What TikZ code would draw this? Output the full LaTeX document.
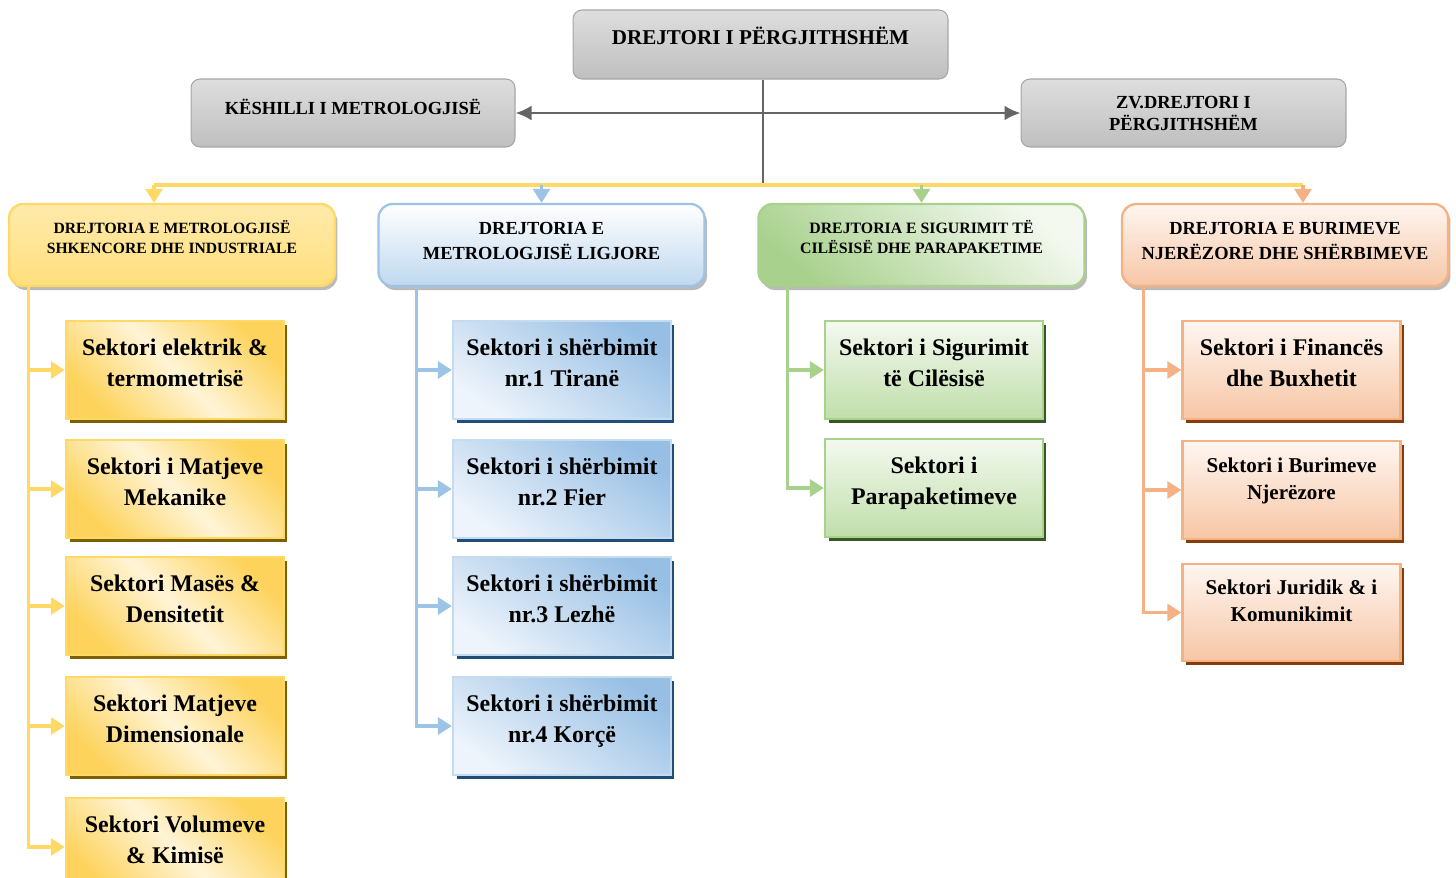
\documentclass[tikz,border=0pt]{standalone}
\usepackage{fontspec}
\setmainfont{Liberation Serif}
\usetikzlibrary{arrows.meta, positioning, shadows, calc}

\definecolor{graytop}{HTML}{DEDEDE}
\definecolor{graybot}{HTML}{BFBFBF}
\definecolor{grayedge}{HTML}{A6A6A6}
\definecolor{grayln}{HTML}{656565}
\definecolor{ylwln}{HTML}{FFD966}
\definecolor{ylwdark}{HTML}{FDD35C}
\definecolor{ylwlight}{HTML}{FFF4D6}
\definecolor{ylwshadow}{HTML}{7F6000}
\definecolor{bluln}{HTML}{9DC3E6}
\definecolor{bludark}{HTML}{97BFE4}
\definecolor{blulight}{HTML}{EEF4FB}
\definecolor{blushadow}{HTML}{1F4E79}
\definecolor{grnln}{HTML}{A9D18E}
\definecolor{grndark}{HTML}{C0DEAA}
\definecolor{grnlight}{HTML}{F4F9F0}
\definecolor{grnshadow}{HTML}{385723}
\definecolor{orgln}{HTML}{F4B183}
\definecolor{orgdark}{HTML}{F7C6A5}
\definecolor{orglight}{HTML}{FEF6F1}
\definecolor{orgshadow}{HTML}{843C0C}

\tikzset{
  topbox/.style={draw=grayedge, line width=0.6pt, rounded corners=0.18cm,
    top color=graytop, bottom color=graybot, align=center,
    font=\bfseries\fontsize{10.5}{12.5}\selectfont},
  dirbox/.style={line width=1.3pt, rounded corners=0.28cm, align=center,
    minimum width=6.52cm, minimum height=1.64cm,
    drop shadow={shadow xshift=0.05cm, shadow yshift=-0.08cm, fill=black!45, opacity=0.6}},
  secbox/.style={line width=1.3pt, align=center, minimum width=4.36cm, minimum height=1.96cm,
    font=\bfseries\fontsize{13.6}{17.6}\selectfont},
  ylwsec/.style={secbox, draw=ylwln, top color=ylwdark, bottom color=ylwdark, middle color=ylwlight,
    shading angle=-45, drop shadow={shadow xshift=0.07cm, shadow yshift=-0.07cm, fill=ylwshadow, opacity=1}},
  blusec/.style={secbox, draw=bluln!60, top color=bludark, bottom color=blulight,
    shading angle=-35, drop shadow={shadow xshift=0.07cm, shadow yshift=-0.07cm, fill=blushadow, opacity=1}},
  grnsec/.style={secbox, draw=grnln, top color=grnlight, bottom color=grndark,
    drop shadow={shadow xshift=0.07cm, shadow yshift=-0.07cm, fill=grnshadow, opacity=1}},
  orgsec/.style={secbox, draw=orgln, top color=orglight, bottom color=orgdark,
    drop shadow={shadow xshift=0.07cm, shadow yshift=-0.07cm, fill=orgshadow, opacity=1}},
  grayline/.style={draw=grayln, line width=1.6pt},
  ylwline/.style={draw=ylwln, line width=1.8pt},
  tip/.style={-{Triangle[width=0.34cm, length=0.28cm]}},
}

\begin{document}
\begin{tikzpicture}[x=0.02cm, y=-0.02cm]
\useasboundingbox (0,0) rectangle (1456,877);
\clip (0,0) rectangle (1456,877);

% top level
\node[topbox, minimum width=7.5cm, minimum height=1.38cm, font=\bfseries\fontsize{12}{14}\selectfont] (dg) at (760.5,44.5) {DREJTORI I PËRGJITHSHËM\\[-4.4pt]\mbox{}};
\node[topbox, minimum width=6.48cm, minimum height=1.36cm] (ksh) at (353,113) {KËSHILLI I METROLOGJISË\\[-5.7pt]\mbox{}};
\node[topbox, minimum width=6.5cm, minimum height=1.36cm] (zv) at (1183.5,113) {ZV.DREJTORI I\\PËRGJITHSHËM};

\coordinate (hub) at (763,185);
\draw[grayline] (dg.south -| hub) -- (hub);
\draw[grayline, {Latex[width=0.3cm, length=0.32cm]}-{Latex[width=0.3cm, length=0.32cm]}] (ksh) -- (zv);

% directorates
\node[dirbox, draw=ylwln, top color=ylwln!55, bottom color=ylwln!85, font=\bfseries\fontsize{8.9}{11.3}\selectfont] (d1) at (172,245) {DREJTORIA E METROLOGJISË\\SHKENCORE DHE INDUSTRIALE\\[-2.3pt]\mbox{}};
\node[dirbox, draw=bluln, top color=white, bottom color=bluln!65, font=\bfseries\fontsize{10.5}{14.2}\selectfont] (d2) at (541.5,245) {DREJTORIA E\\METROLOGJISË LIGJORE\\[-9.1pt]\mbox{}};
\node[dirbox, draw=grnln, top color=grnlight, bottom color=grnln, shading angle=-40, font=\bfseries\fontsize{9}{11.3}\selectfont] (d3) at (921.5,245) {DREJTORIA E SIGURIMIT TË\\CILËSISË DHE PARAPAKETIME\\[-2.3pt]\mbox{}};
\node[dirbox, draw=orgln, top color=orglight, bottom color=orgdark, font=\bfseries\fontsize{10.5}{14.2}\selectfont] (d4) at (1285,245) {DREJTORIA E BURIMEVE\\NJERËZORE DHE SHËRBIMEVE\\[-9.1pt]\mbox{}};

\coordinate (b1) at (154,185);
\coordinate (b4) at (1303,185);
\draw[ylwline] (b1) -- (b4);
\draw[ylwline, tip] (b1) -- (b1 |- d1.north);
\draw[draw=bluln, line width=1.8pt, tip] (hub -| d2) -- (d2.north);
\draw[draw=grnln, line width=1.8pt, tip] (hub -| d3) -- (d3.north);
\draw[draw=orgln, line width=1.8pt, tip] (b4) -- (b4 |- d4.north);

% sectors
\node[ylwsec] (s11) at (175,370) {Sektori elektrik \&\\termometrisë\\[-9pt]\mbox{}};
\node[ylwsec] (s12) at (175,489) {Sektori i Matjeve\\Mekanike\\[-9pt]\mbox{}};
\node[ylwsec] (s13) at (175,606) {Sektori Masës \&\\Densitetit\\[-9pt]\mbox{}};
\node[ylwsec] (s14) at (175,726) {Sektori Matjeve\\Dimensionale\\[-9pt]\mbox{}};
\node[ylwsec] (s15) at (175,847) {Sektori Volumeve\\\& Kimisë\\[-9pt]\mbox{}};

\node[blusec] (s21) at (562,370) {Sektori i shërbimit\\nr.1 Tiranë\\[-9pt]\mbox{}};
\node[blusec] (s22) at (562,489) {Sektori i shërbimit\\nr.2 Fier\\[-9pt]\mbox{}};
\node[blusec] (s23) at (562,606) {Sektori i shërbimit\\nr.3 Lezhë\\[-9pt]\mbox{}};
\node[blusec] (s24) at (562,726) {Sektori i shërbimit\\nr.4 Korçë\\[-9pt]\mbox{}};

\node[grnsec] (s31) at (934,370) {Sektori i Sigurimit\\të Cilësisë\\[-9pt]\mbox{}};
\node[grnsec] (s32) at (934,488) {Sektori i\\Parapaketimeve\\[-9pt]\mbox{}};

\node[orgsec] (s41) at (1291.5,370) {Sektori i Financës\\dhe Buxhetit\\[-9pt]\mbox{}};
\node[orgsec, font=\bfseries\fontsize{12}{15.3}\selectfont] (s42) at (1291.5,490) {Sektori i Burimeve\\Njerëzore\\[-2.3pt]\mbox{}};
\node[orgsec, minimum height=1.94cm, font=\bfseries\fontsize{12}{15.3}\selectfont] (s43) at (1291.5,612.5) {Sektori Juridik \& i\\Komunikimit\\[-2.3pt]\mbox{}};

% branches
\coordinate (t1) at ([xshift=0.42cm]d1.south west);
\coordinate (t2) at ([xshift=0.78cm]d2.south west);
\coordinate (t3) at ([xshift=0.6cm]d3.south west);
\coordinate (t4) at ([xshift=0.46cm]d4.south west);

\foreach \s in {s11,s12,s13,s14,s15}
  \draw[ylwline, tip] (t1) |- (\s.west);
\foreach \s in {s21,s22,s23,s24}
  \draw[draw=bluln, line width=1.8pt, tip] (t2) |- (\s.west);
\foreach \s in {s31,s32}
  \draw[draw=grnln, line width=1.8pt, tip] (t3) |- (\s.west);
\foreach \s in {s41,s42,s43}
  \draw[draw=orgln, line width=1.8pt, tip] (t4) |- (\s.west);
\end{tikzpicture}
\end{document}
